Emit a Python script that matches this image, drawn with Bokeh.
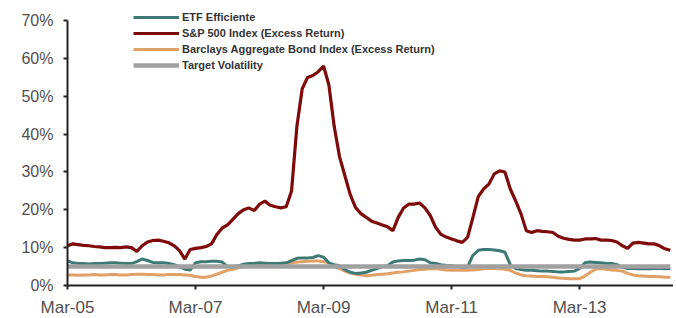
from bokeh.plotting import figure
from bokeh.models import Legend, LegendItem, FixedTicker, Range1d, NumeralTickFormatter
from bokeh.embed import file_html
from bokeh.resources import INLINE

# month index from Mar-05
months = list(range(114))

tick_positions = [0, 24, 48, 72, 96]
tick_labels = ["Mar-05", "Mar-07", "Mar-09", "Mar-11", "Mar-13"]

sp500 = [10.5, 11.0, 10.8, 10.6, 10.5, 10.3, 10.2, 10.0, 10.0, 10.1,
         10.0, 10.2, 10.0, 9.0, 10.5, 11.5, 11.9, 12.0, 11.7, 11.3,
         10.5, 9.2, 7.0, 9.5, 9.8, 10.0, 10.3, 11.0, 13.5, 15.2,
         16.0, 17.5, 19.0, 20.0, 20.5, 19.8, 21.5, 22.3, 21.2, 20.8,
         20.5, 20.8, 25.0, 42.0, 52.0, 55.0, 55.5, 56.5, 58.0, 53.0,
         42.0, 34.0, 29.0, 24.0, 20.6, 19.0, 18.0, 17.0, 16.5, 16.0,
         15.5, 14.5, 18.0, 20.5, 21.5, 21.5, 21.8, 20.5, 18.5, 15.4,
         13.5, 12.8, 12.3, 11.8, 11.4, 12.7, 18.0, 23.5, 25.5, 26.8,
         29.5, 30.3, 30.0, 25.5, 22.4, 19.0, 14.5, 14.0, 14.5, 14.3,
         14.2, 14.0, 13.0, 12.5, 12.2, 12.0, 12.0, 12.3, 12.3, 12.4,
         12.0, 12.0, 11.9, 11.5, 10.5, 9.8, 11.2, 11.4, 11.2, 11.0,
         11.0, 10.5, 9.7, 9.3]

etf = [6.5, 6.0, 5.8, 5.8, 5.7, 5.8, 5.8, 5.9, 6.0, 6.0,
       5.9, 5.8, 5.8, 6.3, 7.0, 6.6, 6.1, 6.0, 6.0, 5.8,
       5.5, 5.0, 4.3, 4.1, 6.0, 6.3, 6.3, 6.4, 6.4, 6.2,
       5.0, 4.9, 5.2, 5.6, 5.8, 5.8, 6.0, 5.9, 5.8, 5.8,
       5.9, 6.0, 6.6, 7.2, 7.3, 7.3, 7.4, 7.9, 7.5, 6.0,
       5.5, 5.2, 4.2, 3.5, 3.2, 3.3, 3.5, 4.0, 4.5, 5.0,
       5.2, 6.2, 6.5, 6.6, 6.6, 6.7, 7.0, 6.8, 6.0, 5.8,
       5.5, 5.3, 5.2, 5.0, 4.8, 4.9, 8.0, 9.3, 9.5, 9.5,
       9.4, 9.2, 8.8, 5.5, 4.5, 4.2, 4.0, 4.0, 3.9, 3.8,
       3.8, 3.7, 3.6, 3.6, 3.7, 3.8, 4.5, 6.0, 6.2, 6.1,
       6.0, 5.8, 5.8, 5.5, 4.8, 4.5, 4.5, 4.4, 4.5, 4.4,
       4.5, 4.5, 4.4, 4.5]

bond = [2.8, 2.8, 2.7, 2.8, 2.8, 2.9, 2.8, 2.8, 2.9, 2.9,
        2.8, 2.8, 2.9, 3.0, 3.0, 2.9, 2.9, 2.8, 2.8, 2.9,
        2.9, 2.9, 2.8, 2.7, 2.4, 2.2, 2.2, 2.5, 3.0, 3.5,
        4.0, 4.3, 4.7, 5.0, 5.3, 5.4, 5.5, 5.6, 5.6, 5.7,
        5.7, 5.8, 6.0, 6.2, 6.3, 6.4, 6.5, 6.5, 6.3, 6.0,
        5.0, 4.5, 3.8, 3.3, 3.0, 2.8, 2.6, 2.7, 2.9, 3.0,
        3.1, 3.3, 3.5, 3.6, 3.8, 4.0, 4.2, 4.3, 4.4, 4.5,
        4.3, 4.1, 4.0, 4.0, 4.0, 4.0, 4.1, 4.2, 4.4, 4.5,
        4.5, 4.4, 4.3, 4.0, 3.3, 2.8, 2.6, 2.5, 2.4, 2.4,
        2.3, 2.2, 2.0, 1.9, 1.8, 1.8, 1.8, 2.5, 3.5, 4.3,
        4.5, 4.3, 4.1, 4.0, 3.8, 3.2, 2.8, 2.6, 2.5, 2.4,
        2.4, 2.3, 2.2, 2.2]

target_level = 5.0
target = [target_level] * len(months)

y_ticks = [0, 10, 20, 30, 40, 50, 60, 70]

# y range extends a little above 70% so the legend's first row is not clipped;
# the axis itself is bounded to 0..70 as in the reference
p = figure(output_backend="svg", toolbar_location=None,
           frame_width=606, frame_height=280,
           x_range=Range1d(0, 113.6), y_range=Range1d(0, 74),
           min_border_left=67, min_border_right=0, min_border_top=5, min_border_bottom=25)
p.outline_line_color = None
p.grid.grid_line_color = None
p.background_fill_color = "white"

r_bond = p.line(months, bond, line_color="#E0A066", line_width=3)
r_etf = p.line(months, etf, line_color="#3D7A76", line_width=3)
r_tgt = p.line(months, target, line_color="#A0A0A0", line_width=4.5)
r_sp = p.line(months, sp500, line_color="#7F0A0A", line_width=3.2)

# axes
p.yaxis.ticker = FixedTicker(ticks=y_ticks)
p.yaxis.bounds = (0, 70)
p.yaxis.formatter = NumeralTickFormatter(format="0")
p.yaxis.major_label_overrides = {t: f"{t}%" for t in y_ticks}
p.xaxis.ticker = FixedTicker(ticks=tick_positions)
p.xaxis.major_label_overrides = dict(zip(tick_positions, tick_labels))
for ax in (p.xaxis[0], p.yaxis[0]):
    ax.axis_line_color = "#222222"
    ax.axis_line_width = 2
    ax.major_tick_line_color = "#222222"
    ax.major_tick_line_width = 2
    ax.major_tick_out = 4
    ax.major_tick_in = 0
    ax.minor_tick_line_color = None
    ax.major_label_text_font = "Liberation Sans"
    ax.major_label_text_color = "#505050"
p.yaxis.major_label_text_font_size = "16px"
p.xaxis.major_label_text_font_size = "17px"
p.yaxis.major_label_standoff = 10
p.xaxis.major_label_standoff = 8

legend = Legend(items=[
    LegendItem(label="ETF Efficiente", renderers=[r_etf]),
    LegendItem(label="S&P 500 Index (Excess Return)", renderers=[r_sp]),
    LegendItem(label="Barclays Aggregate Bond Index (Excess Return)", renderers=[r_bond]),
    LegendItem(label="Target Volatility", renderers=[r_tgt]),
], location=(66, 213))
legend.background_fill_alpha = 0
legend.border_line_color = None
legend.padding = 0
legend.margin = 0
legend.spacing = 2
legend.label_height = 14
legend.glyph_height = 14
legend.glyph_width = 46
legend.label_standoff = 3
legend.label_text_font = "Liberation Sans"
legend.label_text_font_style = "bold"
legend.label_text_font_size = "11px"
legend.label_text_color = "#333333"
p.add_layout(legend, "center")

open("out.html", "w").write(file_html(p, INLINE))
